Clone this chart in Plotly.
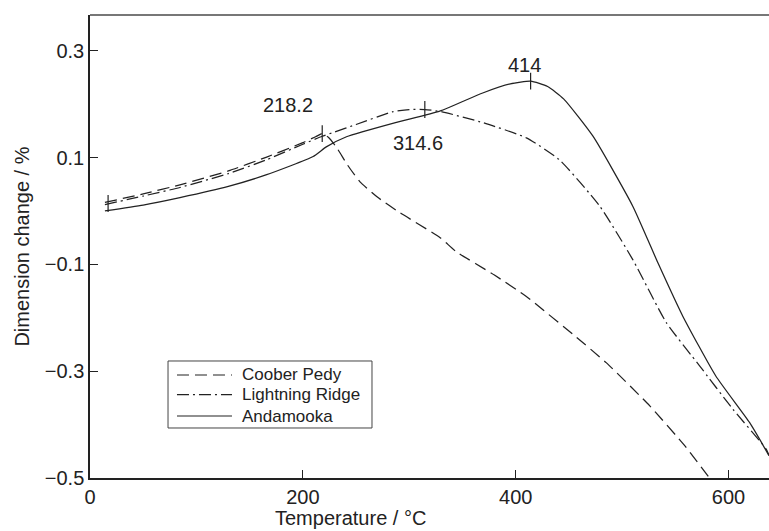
import plotly.graph_objects as go

# Coober Pedy (dashed)
cp_T = [14, 50, 84.5, 130, 166, 200, 212, 218.2, 224, 232, 242, 253.5, 270, 291, 329, 344, 380, 410, 425, 455, 485, 526, 559, 582]
cp_v = [0.016, 0.032, 0.049, 0.075, 0.101, 0.128, 0.139, 0.145, 0.138, 0.118, 0.086, 0.055, 0.026, -0.003, -0.050, -0.076, -0.120, -0.160, -0.184, -0.233, -0.284, -0.365, -0.440, -0.500]

# Lightning Ridge (dash-dot)
lr_T = [14, 50, 84.5, 130, 166, 200, 218.2, 228.5, 250, 284.8, 300, 314.6, 330, 370, 410, 441, 479, 510, 541.5, 572.8, 604, 635.4, 638]
lr_v = [0.012, 0.028, 0.044, 0.070, 0.096, 0.125, 0.140, 0.147, 0.162, 0.186, 0.190, 0.190, 0.186, 0.165, 0.137, 0.096, 0.009, -0.091, -0.209, -0.290, -0.371, -0.446, -0.458]

# Andamooka (solid)
an_T = [14, 50, 84.5, 130, 166, 209.7, 222, 241, 288, 328.6, 369, 395, 414, 430, 445, 472.6, 510, 533.6, 557, 588, 619.7, 638]
an_v = [0.000, 0.011, 0.025, 0.046, 0.068, 0.102, 0.120, 0.139, 0.166, 0.187, 0.221, 0.238, 0.243, 0.233, 0.210, 0.140, 0.009, -0.097, -0.197, -0.309, -0.396, -0.458]

peak_T = [218.2, 314.6, 414]
peak_v = [0.145, 0.190, 0.243]
peak_labels = ["218.2", "314.6", "414"]
label_T = [186, 308, 408.5]
label_v = [0.199, 0.128, 0.274]

start_T = [17]
start_v = [0.014]

x_ticks = [0, 200, 400, 600]
y_ticks = [-0.5, -0.3, -0.1, 0.1, 0.3]
y_ticktext = ["−0.5", "−0.3", "−0.1", "0.1", "0.3"]

series_names = ["Coober Pedy", "Lightning Ridge", "Andamooka"]
series_dash = ["12px,6px", "12px,4px,2px,4px", "solid"]

ink = "#222222"
fig = go.Figure()
for name, T, v, dash in zip(series_names, [cp_T, lr_T, an_T], [cp_v, lr_v, an_v], series_dash):
    fig.add_trace(go.Scatter(x=T, y=v, mode="lines", name=name, line_shape="spline", showlegend=False,
                             line=dict(color=ink, width=1.25, dash=dash, smoothing=0.5)))
fig.add_trace(go.Scatter(x=peak_T + start_T, y=peak_v + start_v, mode="markers", showlegend=False,
                         marker=dict(symbol="line-ns", size=12, line=dict(color=ink, width=1.2))))
for t, v, s in zip(label_T, label_v, peak_labels):
    fig.add_annotation(x=t, y=v, text=s, showarrow=False, font=dict(size=20, color=ink))

# legend box (drawn in paper coordinates)
fig.add_shape(type="rect", xref="paper", yref="paper", x0=0.1149, x1=0.4153, y0=0.1080, y1=0.2527,
              line=dict(color="#444444", width=1), fillcolor="white", layer="above")
row_y = [0.2225, 0.1800, 0.1339]
for name, dash, ry in zip(series_names, series_dash, row_y):
    fig.add_shape(type="line", xref="paper", yref="paper", x0=0.1281, x1=0.2091, y0=ry, y1=ry,
                  line=dict(color=ink, width=1.2, dash=dash), layer="above")
    fig.add_annotation(xref="paper", yref="paper", x=0.2209, y=ry, xanchor="left", yanchor="middle",
                       text=name, showarrow=False, font=dict(size=17, color=ink))

fig.add_annotation(xref="paper", yref="paper", x=0.384, y=-0.087, yanchor="middle",
                   text="Temperature / °C", showarrow=False, font=dict(size=20, color=ink))
fig.add_annotation(xref="paper", yref="paper", x=-0.1, y=0.5, xanchor="center", yanchor="middle",
                   xshift=-1, text="Dimension change / %", textangle=-90, showarrow=False,
                   font=dict(size=20, color=ink))

fig.add_shape(type="line", xref="paper", yref="paper", x0=0, x1=1, y0=1, y1=1,
              line=dict(color="#777777", width=2))

fig.update_layout(
    width=769, height=531,
    margin=dict(l=90, r=0, t=15, b=53, autoexpand=False),
    paper_bgcolor="white", plot_bgcolor="white",
    font=dict(family="Liberation Sans, Arial, sans-serif", size=20, color=ink),
    showlegend=False,
    xaxis=dict(range=[0, 638], tickvals=x_ticks, ticks="inside", ticklen=8, tickwidth=1,
               tickcolor=ink, showline=True, linecolor=ink, linewidth=1.5,
               showgrid=False, zeroline=False, automargin=False, tickfont=dict(size=20)),
    yaxis=dict(range=[-0.5, 0.367], tickvals=y_ticks, ticktext=y_ticktext,
               ticks="inside", ticklen=8, tickwidth=1,
               tickcolor=ink, showline=True, linecolor=ink, linewidth=1.5,
               showgrid=False, zeroline=False, automargin=False, tickfont=dict(size=20)),
)
fig.write_html("out.html", config={"displayModeBar": False},
               post_script="document.body.style.margin='0';document.body.style.overflow='hidden';")
